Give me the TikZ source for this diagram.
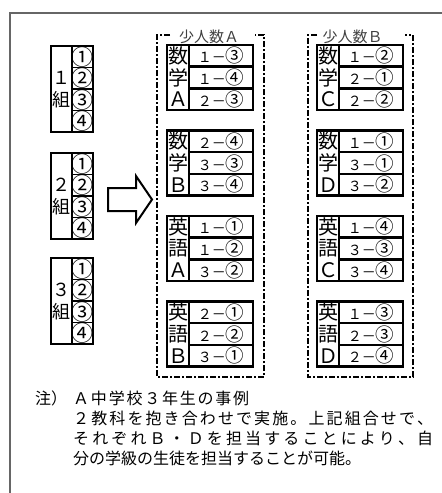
\documentclass[tikz,border=0pt]{standalone}
\usepackage{fontspec}
\setmainfont{Noto Sans CJK JP}
\makeatletter
\def\jspread#1#2{\makebox[#1][s]{\jsp@#2\@nil\unskip}}
\def\jsp@#1{\ifx#1\@nil\else#1\hfil\expandafter\jsp@\fi}
\makeatother
\newcommand\cnum[1]{{\fontsize{18.5}{18.5}\selectfont #1}}
\tikzset{
  frameline/.style={draw=black!60, line width=1.4pt},
  boxline/.style={line width=2.4pt},
  thinline/.style={line width=1.4pt},
  grp/.style={line width=2pt, dash pattern=on 6pt off 2pt on 2pt off 2pt},
  cls/.style={font=\fontsize{18}{18}\selectfont, inner sep=0pt},
  circ/.style={font=\fontsize{22}{22}\selectfont, inner sep=0pt},
  lab/.style={font=\fontsize{20}{20}\selectfont, inner sep=0pt},
  val/.style={font=\fontsize{14}{14}\selectfont, inner sep=0pt},
  ttl/.style={font=\fontsize{15}{15}\selectfont, text=black!75, inner sep=0pt},
  note/.style={font=\fontsize{16}{16}\selectfont, inner sep=0pt, anchor=west},
}
\newcommand\classbox[3]{%
\begin{scope}[shift={(51,#1)}]
  \draw[thinline] (21,21.5) -- (42,21.5) (21,43) -- (42,43) (21,64.5) -- (42,64.5);
  \draw[boxline] (21,0) -- (21,86);
  \draw[boxline] (0,0) rectangle (42,86);
  \node[cls] (c#2n) at (10.5,32.25) {#3};
  \node[cls] (c#2k) at (10.5,53.75) {組};
  \node[circ] (c#2a) at (31.5,10.75) {①};
  \node[circ] (c#2b) at (31.5,32.25) {②};
  \node[circ] (c#2c) at (31.5,53.75) {③};
  \node[circ] (c#2d) at (31.5,75.25) {④};
\end{scope}}
\newcommand\jtable[9]{%
\begin{scope}[shift={(#1,#2)}]
  \draw[boxline] (22,0) -- (22,65) (22,21.67) -- (86,21.67) (22,43.33) -- (86,43.33);
  \draw[boxline] (0,0) rectangle (86,65);
  \node[lab] (#9l1) at (11,10.8) {#3};
  \node[lab] (#9l2) at (11,32.5) {#4};
  \node[lab] (#9l3) at (11,54.2) {#5};
  \node[val] (#9v1) at (54,10.8) {#6};
  \node[val] (#9v2) at (54,32.5) {#7};
  \node[val] (#9v3) at (54,54.2) {#8};
\end{scope}}
\begin{document}
\begin{tikzpicture}[x=1pt,y=-1pt]
\useasboundingbox (0,0) rectangle (442,493);
\draw[frameline] (10,493) -- (10,13) -- (442,13);
% classes
\classbox{46}{one}{１}
\classbox{153}{two}{２}
\classbox{258}{three}{３}
% arrow
\draw[line width=2pt, fill=white] (108,188) -- (136,188) -- (136,176) -- (152,199.5)
  -- (136,223) -- (136,211) -- (108,211) -- cycle;
% group A
\draw[grp] (170,35) -- (157,35) -- (157,377) -- (264,377) -- (264,35) -- (255,35);
\node[ttl] (tA) at (209,37) {少人数Ａ};
\jtable{167}{45}{数}{学}{Ａ}{１－\cnum{③}}{１－\cnum{④}}{２－\cnum{③}}{ma}
\jtable{167}{130.5}{数}{学}{Ｂ}{２－\cnum{④}}{３－\cnum{③}}{３－\cnum{④}}{mb}
\jtable{167}{216}{英}{語}{Ａ}{１－\cnum{①}}{１－\cnum{②}}{３－\cnum{②}}{ea}
\jtable{167}{301.5}{英}{語}{Ｂ}{２－\cnum{①}}{２－\cnum{②}}{３－\cnum{①}}{eb}
% group B
\draw[grp] (317,35) -- (308,35) -- (308,377) -- (413,377) -- (413,35) -- (405,35);
\node[ttl] (tB) at (352.5,37) {少人数Ｂ};
\jtable{317}{45}{数}{学}{Ｃ}{１－\cnum{②}}{２－\cnum{①}}{２－\cnum{②}}{mc}
\jtable{317}{130.5}{数}{学}{Ｄ}{１－\cnum{①}}{３－\cnum{①}}{３－\cnum{②}}{md}
\jtable{317}{216}{英}{語}{Ｃ}{１－\cnum{④}}{３－\cnum{③}}{３－\cnum{④}}{ec}
\jtable{317}{301.5}{英}{語}{Ｄ}{１－\cnum{③}}{２－\cnum{③}}{２－\cnum{④}}{ed}
% note
\node[note] (n0) at (35,398) {注）};
\node[note] (n1) at (73,398) {\jspread{176pt}{Ａ中学校３年生の事例}};
\node[note] (n2) at (73,418) {\jspread{360pt}{２教科を抱き合わせで実施。上記組合せで、}};
\node[note] (n3) at (73,438) {\jspread{360pt}{それぞれＢ・Ｄを担当することにより、自}};
\node[note] (n4) at (73,458) {分の学級の生徒を担当することが可能。};
\end{tikzpicture}
\end{document}
